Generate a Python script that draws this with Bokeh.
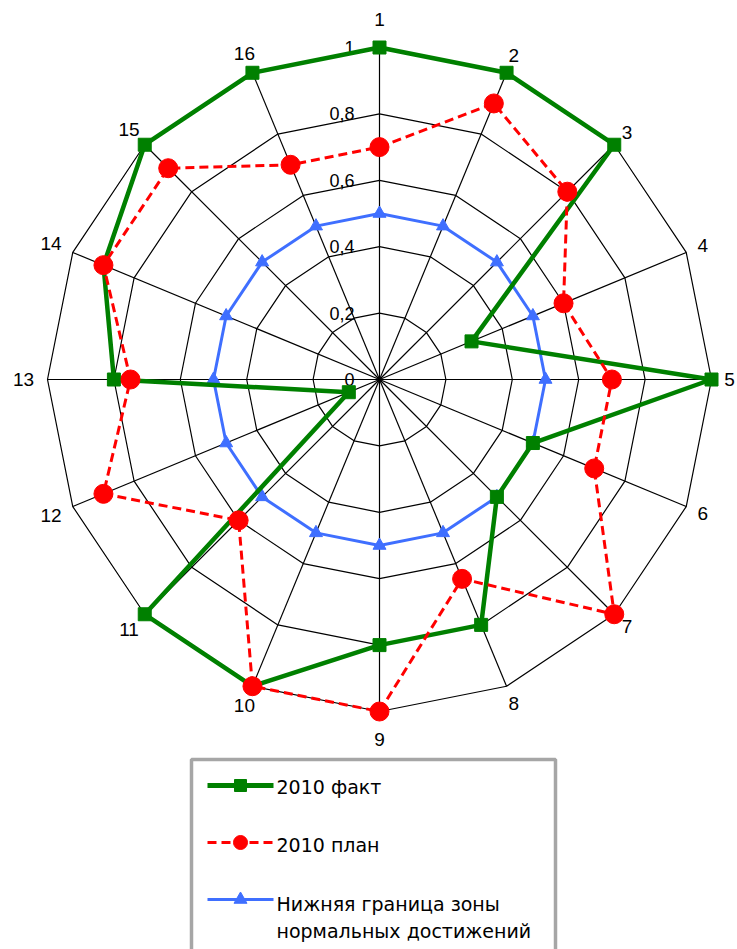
import numpy as np
from bokeh.plotting import figure
from bokeh.models import Range1d
from bokeh.embed import file_html
from bokeh.resources import INLINE
from bokeh.core.properties import value

# ---------------- data ----------------
categories = ["1", "2", "3", "4", "5", "6", "7", "8",
              "9", "10", "11", "12", "13", "14", "15", "16"]
fact_2010 = [1.0, 1.0, 1.0, 0.3, 1.0, 0.5, 0.5, 0.8,
             0.8, 1.0, 1.0, 0.1, 0.8, 0.9, 1.0, 1.0]
plan_2010 = [0.7, 0.9, 0.8, 0.6, 0.7, 0.7, 1.0, 0.65,
             1.0, 1.0, 0.6, 0.9, 0.75, 0.9, 0.9, 0.7]
lower_bound = [0.5, 0.5, 0.5, 0.5, 0.5, 0.5, 0.5, 0.5,
               0.5, 0.5, 0.5, 0.5, 0.5, 0.5, 0.5, 0.5]
tick_values = [0.0, 0.2, 0.4, 0.6, 0.8, 1.0]
tick_labels = ["0", "0,2", "0,4", "0,6", "0,8", "1"]
series_names = ["2010 факт", "2010 план",
                "Нижняя граница зоны", "нормальных достижений"]

# ---------------- layout ----------------
W, H = 737, 949
CX, CY = 379, 379          # centre of radar in figure pixels (from left/top)
R = 332                    # radius of value 1.0 in pixels
FONT = "Liberation Sans"
LEG_FONT = "DejaVu Sans"
GREEN = "#008000"
RED = "#FF0000"
BLUE = "#3F6FFF"

p = figure(width=W, height=H, output_backend="svg", toolbar_location=None,
           x_range=Range1d(-CX, W - CX), y_range=Range1d(-(H - CY), CY),
           min_border=0)
p.axis.visible = False
p.grid.visible = False
p.outline_line_color = None
p.background_fill_color = "white"
p.border_fill_color = "white"

n = len(categories)
theta = np.arange(n) * 2 * np.pi / n
sx, sy = np.sin(theta), np.cos(theta)


def polar(vals):
    v = np.asarray(vals, dtype=float)
    x = v * sx * R
    y = v * sy * R
    return np.append(x, x[0]), np.append(y, y[0]), x, y


# grid rings
for rv in tick_values[1:]:
    gx, gy, _, _ = polar([rv] * n)
    p.line(gx, gy, line_color="black", line_width=1.2)

# spokes
p.segment(x0=np.zeros(n), y0=np.zeros(n), x1=sx * R, y1=sy * R,
          line_color="black", line_width=1.2)

# value labels
p.text(x=[-25] * len(tick_values), y=[v * R for v in tick_values], text=tick_labels,
       text_align="right", text_baseline="middle", text_font=value(FONT),
       text_font_size="18px", text_color="black")

# category labels
lab_r = np.array([350 + 10 * c ** 32 + 6 * abs(s) * (len(t) - 1)
                  for c, s, t in zip(sy, sx, categories)])
p.text(x=lab_r * sx, y=lab_r * sy, text=categories, text_align="center",
       text_baseline="middle", text_font=value(FONT), text_font_size="19px",
       text_color="black")

# series
bx, by, bmx, bmy = polar(lower_bound)
p.line(bx, by, line_color=BLUE, line_width=3)
p.scatter(bmx, bmy, marker="triangle", size=13, fill_color=BLUE, line_color=BLUE)

gx, gy, gmx, gmy = polar(fact_2010)
p.line(gx, gy, line_color=GREEN, line_width=4.5)
p.scatter(gmx, gmy, marker="square", size=13, fill_color=GREEN, line_color=GREEN)

rx, ry, rmx, rmy = polar(plan_2010)
p.line(rx, ry, line_color=RED, line_width=3, line_dash="9 5")
p.scatter(rmx, rmy, marker="circle", size=19, fill_color=RED, line_color=RED)

# ---------------- legend (drawn manually) ----------------
def px_x(px):   # picture x -> data
    return px - CX


def px_y(py):   # picture y -> data
    return CY - py


p.quad(left=[px_x(191)], right=[px_x(555)], top=[px_y(759)], bottom=[px_y(1000)],
       fill_color="white", line_color="#A6A6A6", line_width=3.5)

x0, x1, xm = px_x(207), px_x(273), px_x(240)
rows = [px_y(785), px_y(842), px_y(899)]
p.line([x0, x1], [rows[0]] * 2, line_color=GREEN, line_width=5)
p.scatter([xm], [rows[0]], marker="square", size=12, fill_color=GREEN, line_color=GREEN)
p.line([x0, x1], [rows[1]] * 2, line_color=RED, line_width=3, line_dash="9 5")
p.scatter([xm], [rows[1]], marker="circle", size=14, fill_color=RED, line_color=RED)
p.line([x0, x1], [rows[2]] * 2, line_color=BLUE, line_width=3)
p.scatter([xm], [rows[2]], marker="triangle", size=13, fill_color=BLUE, line_color=BLUE)

text_y = [px_y(786), px_y(844), px_y(903), px_y(930)]
p.text(x=[px_x(276)] * 4, y=text_y, text=series_names, text_align="left",
       text_baseline="middle", text_font=value(LEG_FONT), text_font_size="19px",
       text_color="black")

open("out.html", "w").write(file_html(p, INLINE))
